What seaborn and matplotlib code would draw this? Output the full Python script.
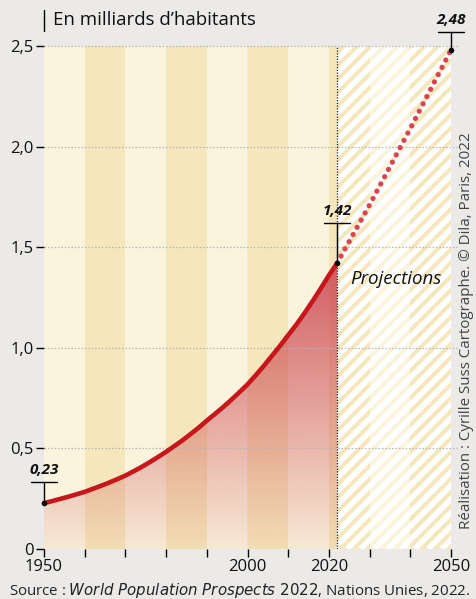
import numpy as np
import pandas as pd
import matplotlib
matplotlib.use("Agg")
import matplotlib.pyplot as plt
import seaborn as sns
from matplotlib.patches import Rectangle

sns.set_theme(style="white")
plt.rcParams['font.family'] = ['Open Sans', 'DejaVu Sans']

# Data (billions of inhabitants, Africa)
years_hist = [1950, 1952, 1954, 1956, 1958, 1960, 1962, 1964, 1966, 1968,
              1970, 1972, 1974, 1976, 1978, 1980, 1982, 1984, 1986, 1988,
              1990, 1992, 1994, 1996, 1998, 2000, 2002, 2004, 2006, 2008,
              2010, 2012, 2014, 2016, 2018, 2020, 2022]
pop_hist = [0.228, 0.238, 0.249, 0.260, 0.272, 0.284, 0.299, 0.314, 0.330, 0.347,
            0.365, 0.386, 0.408, 0.432, 0.457, 0.483, 0.511, 0.540, 0.571, 0.603,
            0.638, 0.671, 0.705, 0.741, 0.779, 0.818, 0.863, 0.910, 0.960, 1.010,
            1.063, 1.115, 1.172, 1.232, 1.295, 1.360, 1.420]
years_proj = [2022, 2030, 2040, 2050]
pop_proj = [1.420, 1.710, 2.090, 2.480]
yticks = [0, 0.5, 1.0, 1.5, 2.0, 2.5]
ytick_labels = ["0", "0,5", "1,0", "1,5", "2,0", "2,5"]
xticks = [1950, 1960, 1970, 1980, 1990, 2000, 2010, 2020, 2030, 2040, 2050]
xtick_labels = ["1950", "", "", "", "", "2000", "", "2020", "", "", "2050"]
label_years = [1950, 2022, 2050]
label_values = [0.23, 1.42, 2.48]
label_texts = ["0,23", "1,42", "2,48"]
leader_len = [0.105, 0.2, 0.09]

BG = "#ebeae8"
LIGHT = "#faf4dd"
DARK = "#f5e7bb"
RED = "#c8161d"

fig = plt.figure(figsize=(4.77, 5.99), dpi=100, facecolor=BG)
ax = fig.add_axes([44/477, 1-549/599, (451-44)/477, (549-46)/599])
ax.set_facecolor(BG)
ax.set_xlim(1950, 2050)
ax.set_ylim(0, 2.5)

# background bands
for i, x0 in enumerate(range(1950, 2050, 10)):
    ax.add_patch(Rectangle((x0, 0), 10, 2.5, facecolor=LIGHT if i % 2 == 0 else DARK,
                           edgecolor='none', zorder=0))
# projection stripes (45 degrees in pixels)
clip_rect = Rectangle((2022, 0), 28, 2.5, facecolor='none', edgecolor='none',
                      transform=ax.transData)
ax.add_patch(clip_rect)
slope = (407 / 100) / (503 / 2.5)  # data units per year for 45 deg
period = 13.5 / 4.07
for c in np.arange(2022 - 2.5 / slope - period, 2050 + period, period):
    ln, = ax.plot([c, c + 2.6 / slope], [0, 2.6], color='white', lw=4.0, zorder=1,
                  solid_capstyle='butt')
    ln.set_clip_path(clip_rect)

# gradient fill under curve
fill = ax.fill_between(years_hist, pop_hist, 0, facecolor='none', edgecolor='none', zorder=2)
n = 256
alpha = np.linspace(0.06, 0.82, n)[:, None]
img = np.zeros((n, 1, 4))
rgb = matplotlib.colors.to_rgb("#c93a48")
img[..., 0], img[..., 1], img[..., 2] = rgb
img[..., 3] = alpha
im = ax.imshow(img, extent=[1950, 2022, 0, 1.42], origin='lower', aspect='auto',
               zorder=2, interpolation='bilinear')
im.set_clip_path(fill.get_paths()[0], transform=ax.transData)

# grid lines
for y in yticks[1:]:
    ax.plot([1950, 2051.5], [y, y], color="#b5b5b5", lw=0.9, ls=(0, (1.2, 1.5)),
            zorder=3, clip_on=False)
# 2022 vertical dotted line
ax.plot([2022, 2022], [0, 2.5], color="#222222", lw=0.9, ls=(0, (1, 1.2)), zorder=3)

df_h = pd.DataFrame({"year": years_hist, "pop": pop_hist})
df_p = pd.DataFrame({"year": years_proj, "pop": pop_proj})
sns.lineplot(data=df_p, x="year", y="pop", ax=ax, color="#d9454f", lw=3.8,
             linestyle=(0, (0.01, 1.55)), solid_capstyle='round', dash_capstyle='round',
             zorder=4, clip_on=False)
sns.lineplot(data=df_h, x="year", y="pop", ax=ax, color=RED, lw=3.3,
             solid_capstyle='round', solid_joinstyle='round', zorder=5, clip_on=False)

# labels with leaders
for x, y, t, L in zip(label_years, label_values, label_texts, leader_len):
    top = y + L
    ax.plot([x, x], [y, top], color='black', lw=1, zorder=6, clip_on=False)
    ax.plot([x - 3.3, x + 3.3], [top, top], color='black', lw=1, zorder=6, clip_on=False)
    ax.scatter([x], [y], s=16, color='black', zorder=7, clip_on=False, linewidths=0)
    ax.text(x, top + 0.025, t, ha='center', va='bottom', fontsize=11, fontweight='bold',
            fontstyle='italic', color='#111111')

ax.text(2047.8, 1.34, "Projections", ha='right', va='center', fontsize=13.5,
        fontstyle='italic', color='#111111', zorder=6)

for s in ax.spines.values():
    s.set_visible(False)
ax.set_xticks(xticks)
ax.set_xticklabels(xtick_labels)
ax.set_yticks(yticks)
ax.set_yticklabels(ytick_labels)
ax.tick_params(axis='both', which='both', direction='out', length=6, width=1,
               color='black', labelsize=12, labelcolor='#111111', pad=1.5)
ax.tick_params(axis='x', bottom=True)
ax.tick_params(axis='y', left=True)
ax.set_xlabel("")
ax.set_ylabel("")

# title
fig.text(53/477, 1-20/599, "En milliards d\u2019habitants", ha='left', va='center',
         fontsize=13.4, color='#111111')
fig.add_artist(plt.Line2D([44/477, 44/477], [1-10/599, 1-31/599], color='black', lw=1))

fig.text(467/477, 1-331/599, "Réalisation : Cyrille Suss Cartographe. © Dila, Paris, 2022",
         rotation=90, ha='center', va='center', fontsize=10.9, color='#444444')
fig.text(240/477, 1-590/599, "Source : $\\it{World\\ Population\\ Prospects\\ 2022}$, Nations Unies, 2022.",
         ha='center', va='center', fontsize=10.8, color='#222222')

fig.savefig("out.png", dpi=100, facecolor=BG)
